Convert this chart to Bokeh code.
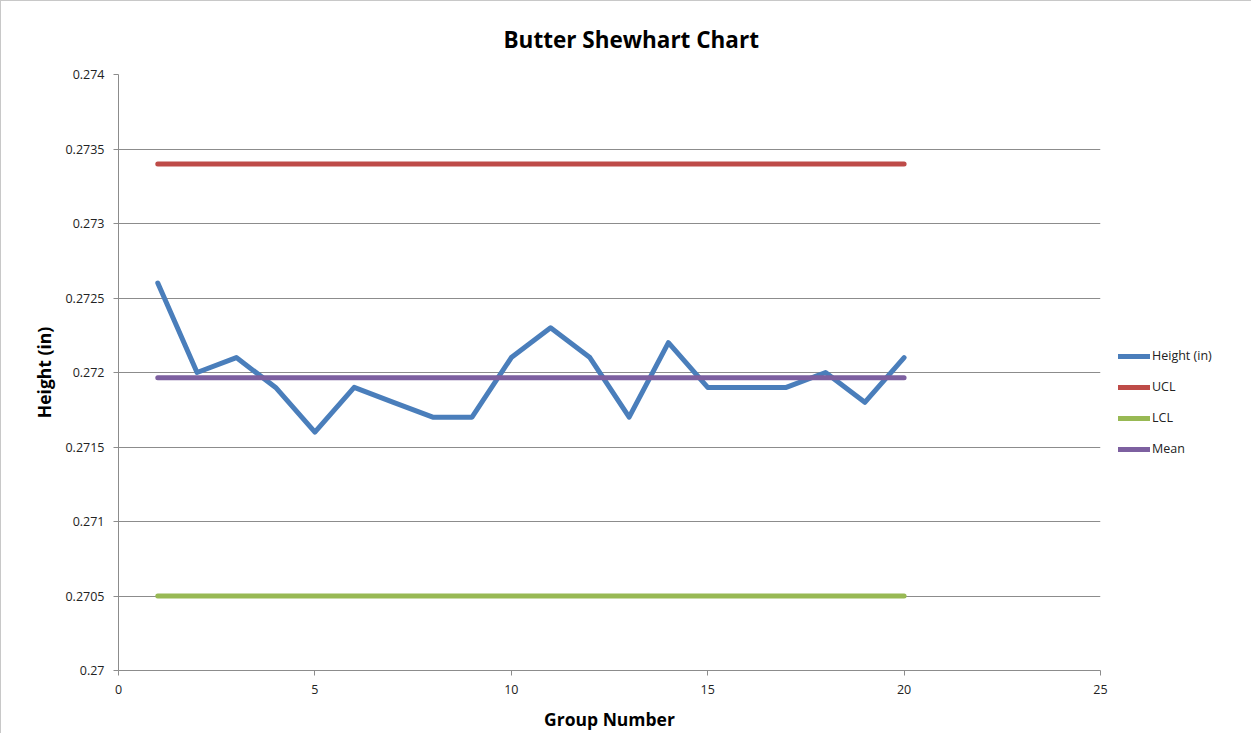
from bokeh.plotting import figure
from bokeh.models import FixedTicker, Legend, LegendItem, Range1d
from bokeh.embed import file_html
from bokeh.resources import INLINE

groups = list(range(1, 21))
height_in = [0.2726, 0.2720, 0.2721, 0.2719, 0.2716, 0.2719, 0.2718, 0.2717, 0.2717, 0.2721,
             0.2723, 0.2721, 0.2717, 0.2722, 0.2719, 0.2719, 0.2719, 0.2720, 0.2718, 0.2721]
ucl = [0.27340] * 20
lcl = [0.27050] * 20
mean_val = sum(height_in) / len(height_in)
mean = [mean_val] * 20

y_ticks = [0.27, 0.2705, 0.271, 0.2715, 0.272, 0.2725, 0.273, 0.2735, 0.274]
y_tick_labels = ["0.27", "0.2705", "0.271", "0.2715", "0.272", "0.2725", "0.273", "0.2735", "0.274"]
x_ticks = [0, 5, 10, 15, 20, 25]

FONT = "Open Sans"

p = figure(frame_width=982, frame_height=596, output_backend="svg", toolbar_location=None,
           x_range=Range1d(0, 25), y_range=Range1d(0.27, 0.274),
           title="Butter Shewhart Chart")
p.min_border_left = 117
p.min_border_top = 73
p.min_border_right = 100
p.min_border_bottom = 63
p.styles = {"border-left": "1px solid #c8c8c8", "border-top": "1px solid #c8c8c8"}

p.title.align = "left"
p.title.offset = 385
p.title.text_font = FONT
p.title.text_font_size = "22.5px"
p.title.text_font_style = "bold"
p.title.text_color = "#000000"
p.title.standoff = 39

p.outline_line_color = None
p.xgrid.grid_line_color = None
p.ygrid.grid_line_color = "#8c8c8c"
p.ygrid.grid_line_width = 1

for ax in (p.xaxis[0], p.yaxis[0]):
    ax.axis_line_color = "#8c8c8c"
    ax.major_tick_line_color = "#8c8c8c"
    ax.minor_tick_line_color = None
    ax.major_tick_in = 0
    ax.major_tick_out = 5
    ax.major_label_text_font = FONT
    ax.major_label_text_font_size = "12.5px"
    ax.major_label_text_color = "#222222"
    ax.axis_label_text_font = FONT
    ax.axis_label_text_font_size = "17.5px"
    ax.axis_label_text_font_style = "bold"
    ax.axis_label_text_color = "#000000"

p.xaxis.ticker = FixedTicker(ticks=x_ticks)
p.yaxis.ticker = FixedTicker(ticks=y_ticks)
p.yaxis.major_label_overrides = {t: l for t, l in zip(y_ticks, y_tick_labels)}
p.xaxis.axis_label = "Group Number"
p.yaxis.axis_label = "Height (in)"
p.xaxis.major_label_standoff = 9
p.yaxis.major_label_standoff = 9
p.xaxis.axis_label_standoff = 10
p.yaxis.axis_label_standoff = 6

r_h = p.line(groups, height_in, line_color="#4A7EBB", line_width=5, line_join="round", line_cap="round")
r_u = p.line(groups, ucl, line_color="#BE4B48", line_width=5, line_cap="round")
r_l = p.line(groups, lcl, line_color="#98B954", line_width=5, line_cap="round")
r_m = p.line(groups, mean, line_color="#7D60A0", line_width=5, line_cap="round")

legend = Legend(items=[LegendItem(label="Height (in)", renderers=[r_h]),
                       LegendItem(label="UCL", renderers=[r_u]),
                       LegendItem(label="LCL", renderers=[r_l]),
                       LegendItem(label="Mean", renderers=[r_m])],
                location=(18, 213))
legend.border_line_color = None
legend.background_fill_alpha = 0
legend.padding = 0
legend.margin = 0
legend.glyph_width = 32
legend.glyph_height = 16
legend.label_standoff = 2
legend.spacing = 14
legend.label_text_font = FONT
legend.label_text_font_size = "12.5px"
legend.label_text_color = "#222222"
p.add_layout(legend, "right")

open("out.html", "w").write(file_html(p, INLINE))
